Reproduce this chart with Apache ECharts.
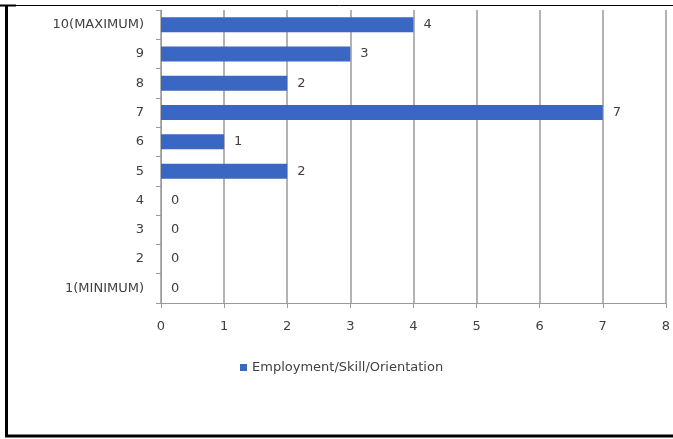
<!DOCTYPE html>
<html>
<head>
<meta charset="utf-8">
<script src="https://cdn.jsdelivr.net/npm/echarts@6/dist/echarts.min.js"></script>
<style>
html,body{margin:0;padding:0;background:#fff;}
#chart{width:673px;height:439px;}
</style>
</head>
<body>
<div id="chart"></div>
<script>
const categories = ['1(MINIMUM)', '2', '3', '4', '5', '6', '7', '8', '9', '10(MAXIMUM)'];
const values = [0, 0, 0, 0, 2, 1, 7, 2, 3, 4];
const seriesName = 'Employment/Skill/Orientation';
const xTicks = [0, 1, 2, 3, 4, 5, 6, 7, 8];

const chart = echarts.init(document.getElementById('chart'));
const font = 'DejaVu Sans, Arial, sans-serif';
chart.setOption({
  animation: false,
  backgroundColor: '#ffffff',
  grid: { left: 161, right: 7, top: 10, bottom: 136, containLabel: false },
  legend: {
    data: [seriesName],
    left: 235, top: 356,
    itemWidth: 7, itemHeight: 7,
    icon: 'rect',
    itemGap: 4,
    textStyle: { fontFamily: font, fontSize: 13, color: '#404040' }
  },
  xAxis: {
    type: 'value',
    min: xTicks[0], max: xTicks[xTicks.length - 1], interval: 1,
    axisLine: { show: true, lineStyle: { color: '#9a9a9a', width: 1 } },
    axisTick: { show: true, length: 5, lineStyle: { color: '#9a9a9a' } },
    axisLabel: { fontFamily: font, fontSize: 13, color: '#404040', margin: 17 },
    splitLine: { show: true, lineStyle: { color: '#9a9a9a', width: 1.5 } }
  },
  yAxis: {
    type: 'category',
    data: categories,
    axisLine: { show: true, lineStyle: { color: '#9a9a9a', width: 1 } },
    axisTick: { show: true, length: 5, lineStyle: { color: '#9a9a9a' } },
    axisLabel: { fontFamily: font, fontSize: 13, color: '#404040', margin: 17 },
    splitLine: { show: false }
  },
  series: [{
    name: seriesName,
    type: 'bar',
    data: values,
    barWidth: 15,
    itemStyle: { color: '#3a66c4' },
    label: {
      show: true, position: 'right', distance: 10,
      fontFamily: font, fontSize: 13, color: '#404040'
    }
  }],
  graphic: [
    { type: 'line', shape: { x1: 6, y1: 5.5, x2: 673, y2: 5.5 }, style: { stroke: '#000', lineWidth: 1 } },
    { type: 'line', shape: { x1: 0, y1: 5.5, x2: 16, y2: 5.5 }, style: { stroke: '#000', lineWidth: 2 } },
    { type: 'line', shape: { x1: 6.5, y1: 5, x2: 6.5, y2: 437 }, style: { stroke: '#000', lineWidth: 3 } },
    { type: 'line', shape: { x1: 5, y1: 436, x2: 673, y2: 436 }, style: { stroke: '#000', lineWidth: 3 } }
  ]
});
</script>
</body>
</html>
